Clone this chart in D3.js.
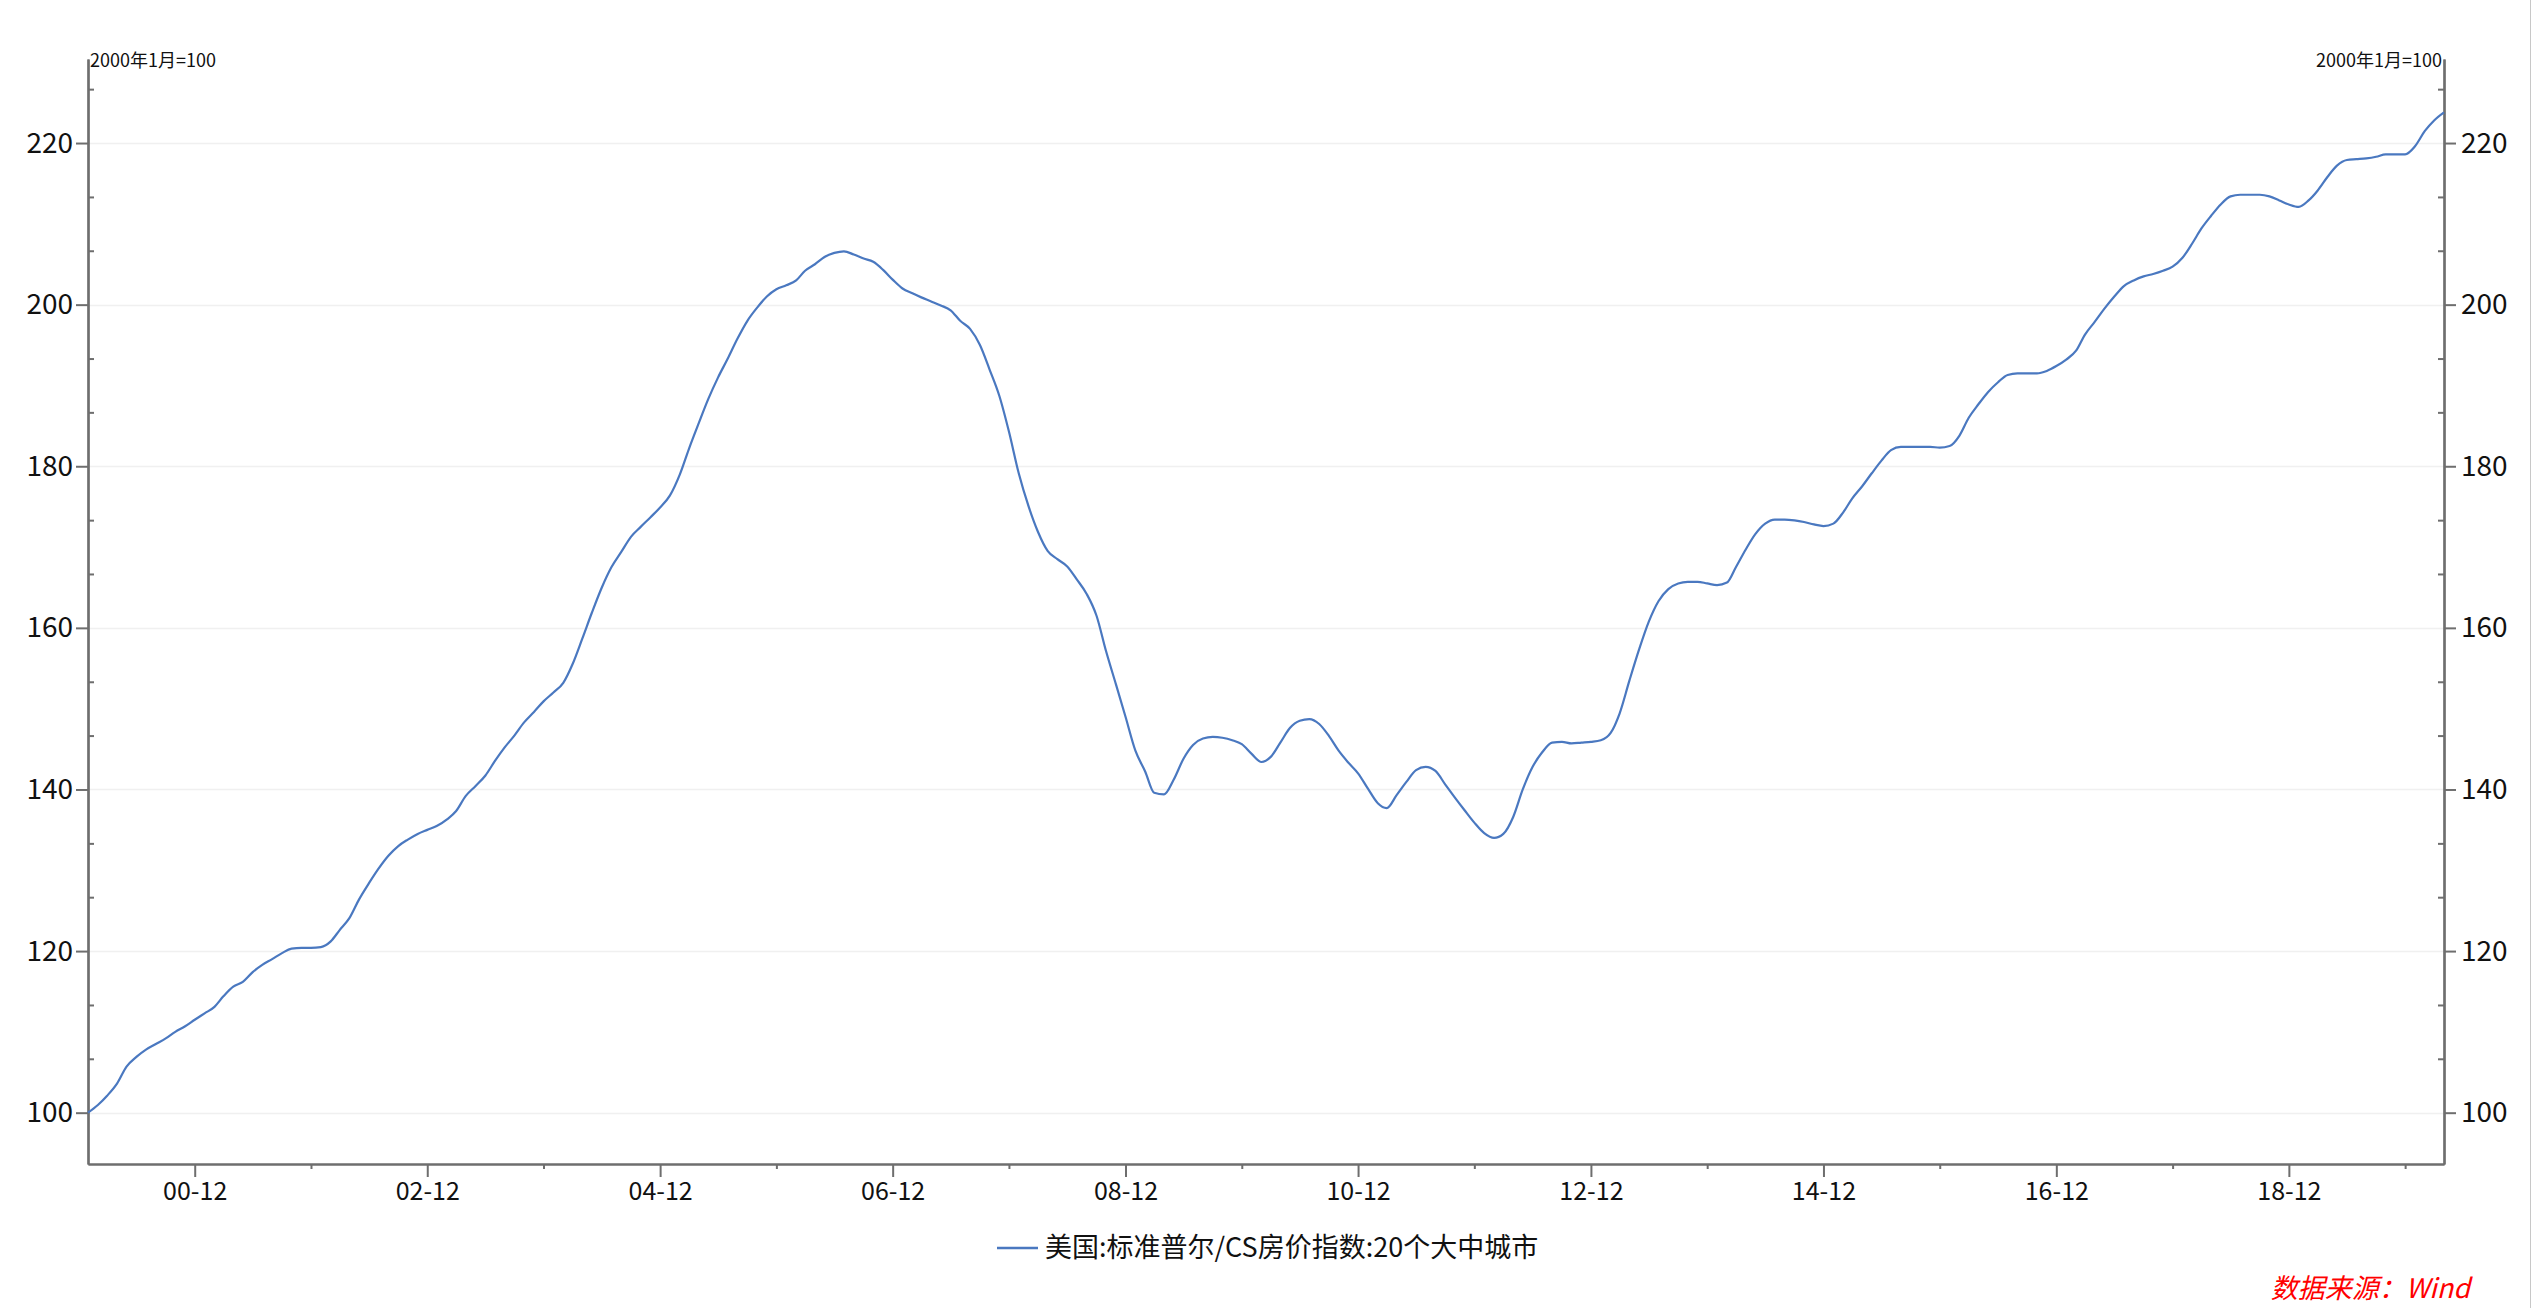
<!DOCTYPE html>
<html><head><meta charset="utf-8">
<script src="https://cdn.jsdelivr.net/npm/d3@7"></script>
<style>html,body{margin:0;padding:0;background:#fff;} svg{display:block;}</style>
</head><body>
<svg id="chart" width="2532" height="1308"></svg>
<script>
// ---------------- data ----------------
const startMonth = "2000-01";
const seriesName = "美国:标准普尔/CS房价指数:20个大中城市";
const unitLabel = "2000年1月=100";
const sourceLabel = "数据来源：Wind";

// monthly index values, 2000-01 .. 2020-04
const indexValues = [
  100.0,100.95,102.1,103.6,105.7,106.9,107.8,108.5,109.2,110.0,110.7,111.5,
  112.3,113.1,114.4,115.6,116.2,117.4,118.3,119.0,119.75,120.3,120.4,120.4,
  120.5,121.2,122.6,124.1,126.4,128.4,130.2,131.8,133.0,133.8,134.5,135.0,
  135.5,136.3,137.3,139.2,140.4,141.7,143.5,145.2,146.7,148.3,149.6,150.9,
  152.0,153.2,155.5,158.7,161.9,165.0,167.5,169.4,171.3,172.5,173.7,174.9,
  176.4,179.0,182.1,185.3,188.3,191.0,193.3,195.8,198.0,199.6,201.0,201.9,
  202.4,203.0,204.2,205.0,205.9,206.4,206.6,206.2,205.7,205.3,204.3,203.1,
  202.0,201.4,200.9,200.4,199.9,199.3,198.0,197.0,195.0,192.0,188.7,184.3,
  179.1,175.0,171.9,169.5,168.5,167.6,166.0,164.2,161.5,157.1,153.0,149.0,
  144.8,142.2,139.6,139.4,141.2,143.8,145.5,146.3,146.5,146.4,146.1,145.6,
  144.4,143.4,144.0,145.8,147.6,148.5,148.7,148.1,146.6,144.8,143.3,142.0,
  140.1,138.3,137.7,139.3,140.9,142.4,142.8,142.3,140.6,139.0,137.4,135.9,
  134.6,134.0,134.5,136.6,140.0,142.8,144.6,145.8,145.9,145.7,145.8,145.9,
  146.1,147.0,149.4,153.5,157.3,160.8,163.3,164.8,165.5,165.7,165.7,165.5,
  165.3,165.6,167.5,169.7,171.6,172.9,173.4,173.4,173.3,173.1,172.8,172.6,
  172.9,174.3,176.0,177.5,179.1,180.7,182.0,182.4,182.4,182.4,182.4,182.3,
  182.5,183.8,186.0,187.7,189.2,190.4,191.3,191.5,191.5,191.5,191.8,192.4,
  193.2,194.3,196.3,197.9,199.5,201.0,202.3,203.0,203.5,203.8,204.2,204.7,
  205.8,207.6,209.4,211.0,212.4,213.4,213.6,213.6,213.6,213.4,212.9,212.4,
  212.1,212.9,214.1,215.8,217.2,217.9,218.0,218.1,218.3,218.6,218.6,218.6,
  219.6,221.5,222.8,223.8
];

const yMajorTicks = [100,120,140,160,180,200,220];
const yMinorTicks = [106.67,113.33,126.67,133.33,146.67,153.33,166.67,173.33,186.67,193.33,206.67,213.33,226.67];
const xMajorTicks = ["2000-12","2002-12","2004-12","2006-12","2008-12","2010-12","2012-12","2014-12","2016-12","2018-12"];
const xMinorTicks = ["2001-12","2003-12","2005-12","2007-12","2009-12","2011-12","2013-12","2015-12","2017-12","2019-12"];
const yDomain = [93.65, 230.4];

// ---------------- chart ----------------
const parseM = d3.timeParse("%Y-%m");
const t0 = parseM(startMonth);
const data = indexValues.map((v,i)=>({date:d3.timeMonth.offset(t0,i), value:v}));

const L = 88, R = 2444, T = 59, B = 1164;
const font = "'Noto Sans CJK SC','Microsoft YaHei',sans-serif";
const axisColor = "#6e6e6e";

const svg = d3.select("#chart");
svg.append("rect").attr("width",2532).attr("height",1308).attr("fill","#fff");
svg.append("line").attr("x1",2530.5).attr("x2",2530.5).attr("y1",0).attr("y2",1308)
   .attr("stroke","#c8c8c8").attr("stroke-width",1);

const x = d3.scaleTime().domain([data[0].date, data[data.length-1].date]).range([L, R]);
const y = d3.scaleLinear().domain(yDomain).range([B, T]);

// gridlines
svg.append("g").selectAll("line").data(yMajorTicks).join("line")
  .attr("x1",L).attr("x2",R).attr("y1",d=>Math.round(y(d))+0.5).attr("y2",d=>Math.round(y(d))+0.5)
  .attr("stroke","#f0f0f0").attr("stroke-width",1.5);

function styleAxis(g, fs){
  g.selectAll(".domain").attr("stroke",axisColor).attr("stroke-width",2.2);
  g.selectAll(".tick line").attr("stroke",axisColor).attr("stroke-width",2);
  g.selectAll("text").attr("fill","#111").style("font-family",font).style("font-size",fs+"px");
}

// left axis
const gl = svg.append("g").attr("transform",`translate(${L},0)`)
  .call(d3.axisLeft(y).tickValues(yMajorTicks).tickFormat(d3.format("d")).tickSize(12).tickPadding(3).tickSizeOuter(0));
styleAxis(gl, 28);
const glm = svg.append("g").attr("transform",`translate(${L},0)`)
  .call(d3.axisLeft(y).tickValues(yMinorTicks).tickFormat("").tickSize(-6).tickSizeOuter(0));
styleAxis(glm, 28);

// right axis
const gr = svg.append("g").attr("transform",`translate(${R},0)`)
  .call(d3.axisRight(y).tickValues(yMajorTicks).tickFormat(d3.format("d")).tickSize(12).tickPadding(5).tickSizeOuter(0));
styleAxis(gr, 28);
const grm = svg.append("g").attr("transform",`translate(${R},0)`)
  .call(d3.axisRight(y).tickValues(yMinorTicks).tickFormat("").tickSize(-6).tickSizeOuter(0));
styleAxis(grm, 28);

// bottom axis
const gb = svg.append("g").attr("transform",`translate(0,${B})`)
  .call(d3.axisBottom(x).tickValues(xMajorTicks.map(parseM)).tickFormat(d3.timeFormat("%y-%m")).tickSize(13).tickPadding(5).tickSizeOuter(0));
styleAxis(gb, 25);
const gbm = svg.append("g").attr("transform",`translate(0,${B})`)
  .call(d3.axisBottom(x).tickValues(xMinorTicks.map(parseM)).tickFormat("").tickSize(5).tickSizeOuter(0));
styleAxis(gbm, 25);

// series line
svg.append("path").datum(data)
  .attr("fill","none").attr("stroke","#4a78c0").attr("stroke-width",2.2)
  .attr("stroke-linejoin","round")
  .attr("d", d3.line().curve(d3.curveMonotoneX).x(d=>x(d.date)).y(d=>y(d.value)));

// unit labels
svg.append("text").attr("x",L+2).attr("y",67).text(unitLabel)
  .style("font-family",font).style("font-size","18px").attr("fill","#111");
svg.append("text").attr("x",R-2).attr("y",67).attr("text-anchor","end").text(unitLabel)
  .style("font-family",font).style("font-size","18px").attr("fill","#111");

// legend
const lg = svg.append("g");
lg.append("line").attr("x1",997).attr("x2",1038).attr("y1",1248).attr("y2",1248)
  .attr("stroke","#4a78c0").attr("stroke-width",2.5);
lg.append("text").attr("x",1045).attr("y",1257).text(seriesName)
  .style("font-family",font).style("font-size","27px").attr("fill","#111");

// source
svg.append("text").attr("x",2470).attr("y",1298).attr("text-anchor","end").text(sourceLabel)
  .style("font-family",font).style("font-size","27px").style("font-style","italic").attr("fill","#ff0000");
</script>
</body></html>
